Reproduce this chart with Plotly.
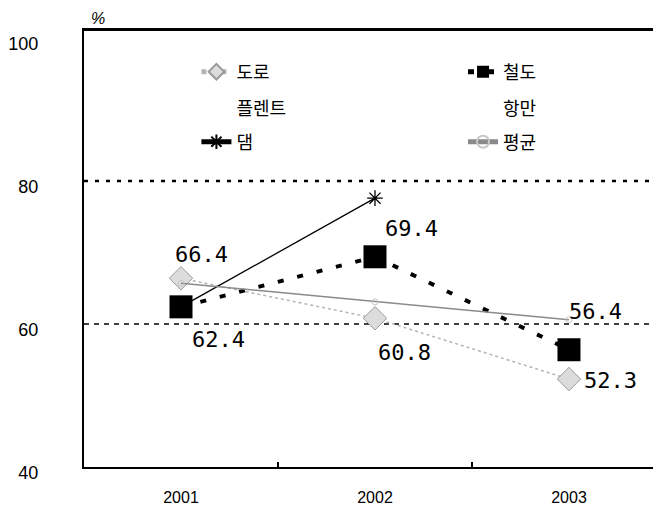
import plotly.graph_objects as go

years = ["2001", "2002", "2003"]
road = [66.4, 60.8, 52.3]        # 도로
rail = [62.4, 69.4, 56.4]        # 철도
plant = [None, None, None]       # 플렌트 (not drawn)
port = [None, None, None]        # 항만 (not drawn)
dam = [62.4, 77.6, None]         # 댐
avg = [65.7, 63.1, 60.6]         # 평균
y_ticks = [40, 60, 80, 100]
ref_levels = [60, 80]

# page body has an 8px margin, so the figure is drawn at (8, 8)
OFF = 8
W, H = 661 - OFF, 515 - OFF
L, R, T, B = 81 - OFF, 0, 30 - OFF, 48
PW, PH = W - L - R, H - T - B

def px_x(xp):  # reference page x -> paper fraction
    return (xp - OFF - L) / PW

def px_y(yp):  # reference page y -> paper fraction
    return (H - B - (yp - OFF)) / PH

fig = go.Figure()

fig.add_trace(go.Scatter(
    x=years, y=road, name="도로", mode="lines+markers", legend="legend",
    line=dict(color="#b4b4b4", width=1.5, dash="dot"),
    marker=dict(symbol="diamond", size=18, color="#dcdcdc",
                line=dict(color="#9a9a9a", width=1))))
fig.add_trace(go.Scatter(
    x=years, y=rail, name="철도", mode="lines+markers", legend="legend2",
    line=dict(color="black", width=4, dash="6px,14px"),
    marker=dict(symbol="square", size=23, color="black")))
fig.add_trace(go.Scatter(
    x=years, y=plant, name="플렌트", mode="lines", legend="legend3",
    line=dict(color="rgba(0,0,0,0)", width=1)))
fig.add_trace(go.Scatter(
    x=years, y=port, name="항만", mode="lines", legend="legend4",
    line=dict(color="rgba(0,0,0,0)", width=1)))
fig.add_trace(go.Scatter(
    x=years, y=dam, name="댐", mode="lines+markers", legend="legend5",
    line=dict(color="black", width=1.3),
    marker=dict(symbol="asterisk-open", size=13, color="black",
                line=dict(color="black", width=1.3))))
fig.add_trace(go.Scatter(
    x=years, y=avg, name="평균", mode="lines+markers", legend="legend6",
    line=dict(color="#8a8a8a", width=1.5),
    marker=dict(symbol="circle-open", size=6, color="#c8c8c8",
                line=dict(color="#c8c8c8", width=1))))

for lv, dash, w in zip(ref_levels, ["5px,5px", "4px,7px"], [1.5, 2.5]):
    fig.add_shape(type="line", xref="paper", yref="y", x0=0, x1=1, y0=lv, y1=lv,
                  line=dict(color="black", width=w, dash=dash), layer="below")
# top frame line
fig.add_shape(type="line", xref="paper", yref="paper", x0=0, x1=1, y0=1, y1=1,
              line=dict(color="black", width=2), layer="above")

label_font = dict(family="DejaVu Sans Mono, Liberation Mono, monospace", size=22, color="black")
road_off = [(20, 24), (30, -34), (42, -1)]
rail_off = [(37, -33), (37, 28), (27, 38)]
for series, offs in ((road, road_off), (rail, rail_off)):
    for i, (yi, (dx, dy)) in enumerate(zip(series, offs)):
        fig.add_annotation(x=i, y=yi, xref="x", yref="y", text=f"{yi:.1f}",
                           showarrow=False, xshift=dx, yshift=dy, font=label_font,
                           xanchor="center", yanchor="middle")

fig.add_annotation(xref="paper", yref="paper", x=px_x(95), y=px_y(18),
                   xanchor="center", yanchor="middle", text="<i>%</i>", showarrow=False,
                   font=dict(family="Liberation Sans, Arial, sans-serif", size=16, color="black"))

leg_font = dict(family="Noto Sans CJK KR, sans-serif", size=18, color="black")
def leg(xtext, yc):
    return dict(orientation="v", x=px_x(xtext - 43), xanchor="left",
                y=px_y(yc), yanchor="middle",
                font=leg_font, bgcolor="rgba(0,0,0,0)", itemsizing="constant")

fig.update_layout(
    width=W, height=H, margin=dict(l=L, r=R, t=T, b=B),
    paper_bgcolor="white", plot_bgcolor="white", showlegend=True,
    legend=leg(237, 72), legend2=leg(505, 72),
    legend3=leg(237, 108), legend4=leg(505, 108),
    legend5=leg(237, 142), legend6=leg(505, 142),
    xaxis=dict(type="category", range=[-0.5, -0.5 + PW / 195.0],
               showline=True, linecolor="black", linewidth=2, mirror=True,
               ticks="inside", ticklen=5, tickwidth=2, tickcolor="black",
               tickson="boundaries", showgrid=False,
               tickfont=dict(family="Liberation Sans Narrow, Arial Narrow, sans-serif", size=16, color="black"),
               ticklabelstandoff=15),
    yaxis=dict(range=[40, 40 + PH / 7.15], tickvals=y_ticks,
               showline=True, linecolor="black", linewidth=2, mirror=False,
               showgrid=False, zeroline=False, ticks="",
               tickfont=dict(family="Liberation Sans Narrow, Arial Narrow, sans-serif", size=18, color="black"),
               ticklabelstandoff=40, ticklabelshift=6),
)

fig.write_html("out.html")
